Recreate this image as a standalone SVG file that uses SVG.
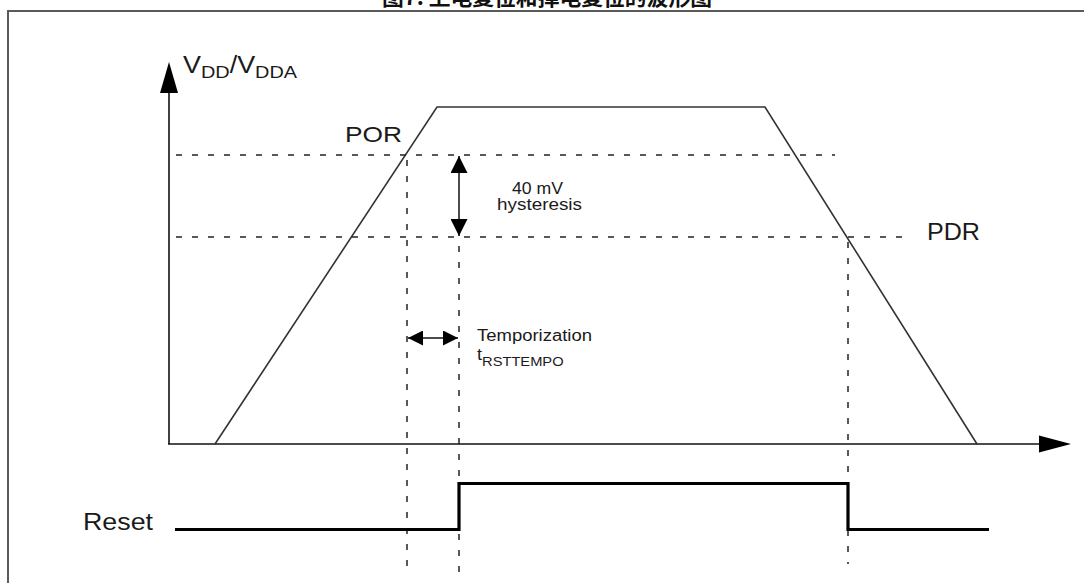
<svg xmlns="http://www.w3.org/2000/svg" width="1084" height="583" viewBox="0 0 1084 583">
<defs>
<style>
.frame{fill:none;stroke:#5a5a5a;stroke-width:2}
.axis{fill:none;stroke:#111;stroke-width:1.6}
.curve{fill:none;stroke:#333;stroke-width:1.6}
.dash{fill:none;stroke:#222;stroke-width:1.5;stroke-dasharray:6 10}
.reset{fill:none;stroke:#000;stroke-width:3.2}
.arr{fill:none;stroke:#111;stroke-width:1.5}
.lbl{font-family:"Liberation Sans",Arial,sans-serif;fill:#1a1a1a}
.title{font-family:"Noto Sans CJK SC",sans-serif;font-weight:bold;fill:#111}
</style>
<marker id="ah" viewBox="0 0 10 10" refX="10" refY="5" markerWidth="17" markerHeight="17" markerUnits="userSpaceOnUse" orient="auto-start-reverse">
<path d="M0,0 L10,5 L0,10 Z" fill="#000"/>
</marker>
<marker id="ahs" viewBox="0 0 10 10" refX="10" refY="5" markerWidth="15" markerHeight="15" markerUnits="userSpaceOnUse" orient="auto-start-reverse">
<path d="M0,0 L10,5 L0,10 Z" fill="#000"/>
</marker>
</defs>
<rect width="1084" height="583" fill="#fff"/>
<text class="title" x="547" y="5" font-size="21" text-anchor="middle" textLength="330" lengthAdjust="spacingAndGlyphs">图7.  上电复位和掉电复位的波形图</text>
<path class="frame" d="M8,590 L8,11 L1090,11"/>

<g id="axes">
<path class="axis" d="M169,444 L169,90"/>
<path d="M169,62 L160,93 L178,93 Z" fill="#000"/>
<path class="axis" d="M168,444 L1041,444"/>
<path d="M1071,444 L1039,435.5 L1039,452.5 Z" fill="#000"/>
</g>

<g id="waveform">
<path class="curve" d="M215,444 L437,107 L765,107 L977,444"/>
</g>

<g id="connectors">
<path class="dash" d="M176,155 L835,155"/>
<path class="dash" d="M176,237 L912,237"/>
<path class="dash" d="M407,160 L407,576"/>
<path class="dash" d="M459,246 L459,578"/>
<path class="dash" d="M848,242 L848,564"/>
<path class="arr" d="M459,156 L459,236" marker-start="url(#ah)" marker-end="url(#ah)"/>
<path class="arr" d="M408,338 L458,338" marker-start="url(#ahs)" marker-end="url(#ahs)"/>
</g>

<g id="reset-signal">
<path class="reset" d="M175,529.5 L459,529.5 L459,483.5 L848,483.5 L848,529.5 L989,529.5"/>
</g>

<g id="labels">
<text class="lbl" transform="translate(183,73) scale(1.17,1)" font-size="23">V<tspan font-size="17" dy="5">DD</tspan><tspan font-size="23" dy="-5">/V</tspan><tspan font-size="17" dy="5">DDA</tspan></text>
<text class="lbl" x="345" y="142" font-size="22" textLength="57" lengthAdjust="spacingAndGlyphs">POR</text>
<text class="lbl" x="927" y="240" font-size="24" textLength="53" lengthAdjust="spacingAndGlyphs">PDR</text>
<text class="lbl" x="512" y="194" font-size="16" textLength="51" lengthAdjust="spacingAndGlyphs">40 mV</text>
<text class="lbl" x="497" y="210" font-size="16" textLength="85" lengthAdjust="spacingAndGlyphs">hysteresis</text>
<text class="lbl" x="477" y="341" font-size="16" textLength="115" lengthAdjust="spacingAndGlyphs">Temporization</text>
<text class="lbl" transform="translate(477,360) scale(1.13,1)" font-size="16">t<tspan font-size="13" dy="6">RSTTEMPO</tspan></text>
<text class="lbl" x="83" y="530" font-size="24" textLength="70" lengthAdjust="spacingAndGlyphs">Reset</text>
</g>
</svg>
